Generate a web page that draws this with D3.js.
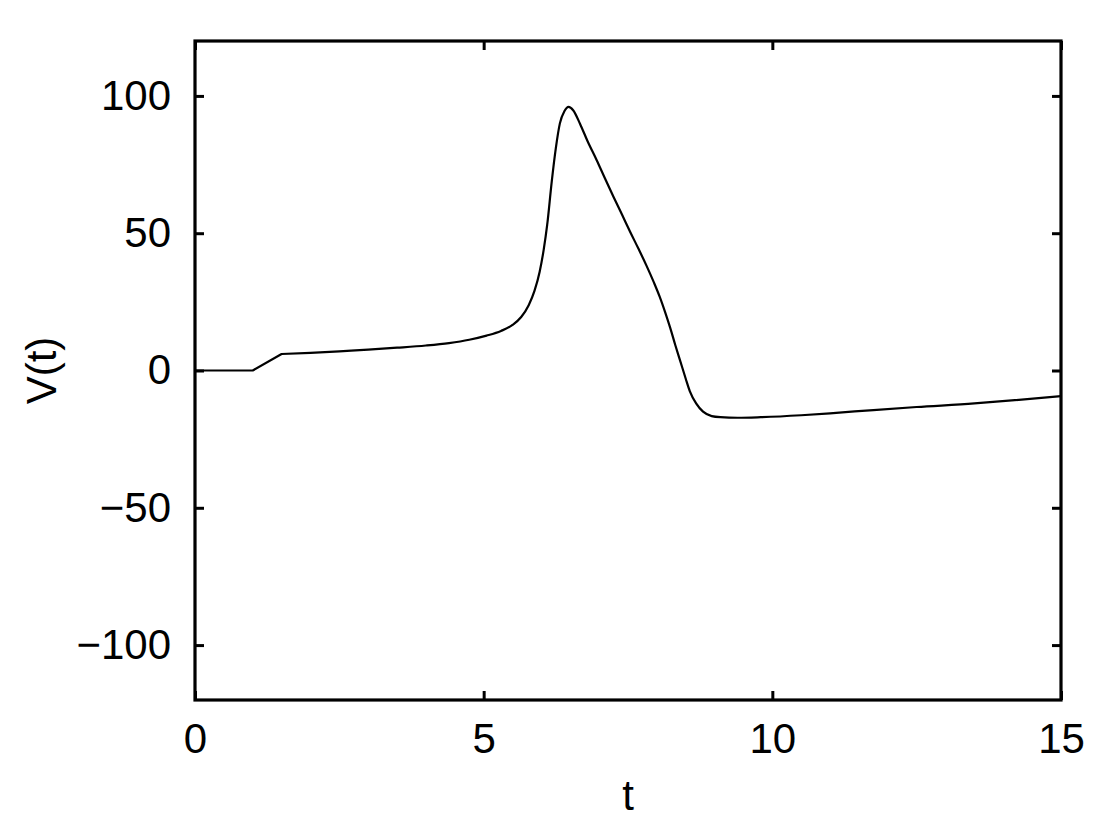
<!DOCTYPE html>
<html>
<head>
<meta charset="utf-8">
<script src="https://cdn.jsdelivr.net/npm/d3@7"></script>
<style>
  html, body { margin: 0; padding: 0; background: #fff; }
  svg { display: block; }
  text { font-family: "Liberation Sans", Arial, Helvetica, sans-serif; fill: #000; }
</style>
</head>
<body>
<script>
// ---- data ----
// stimulus segment (piecewise linear)
const tRamp = [0, 1, 1.5];
const vRamp = [0, 0, 6];
// membrane response (smooth)
const tValues = [1.5, 2, 2.5, 3, 3.5, 4, 4.4, 4.75, 5.05, 5.3, 5.5, 5.65, 5.78, 5.88, 5.97, 6.04, 6.1, 6.18, 6.25, 6.32, 6.4, 6.47, 6.55, 6.67, 6.8, 6.96, 7.1, 7.25, 7.4, 7.53, 7.68, 7.82, 7.95, 8.05, 8.15, 8.23, 8.32, 8.4, 8.5, 8.57, 8.68, 8.8, 8.95, 9.1, 9.4, 9.8, 10.5, 11, 11.75, 12.5, 13.5, 14.2, 15];
const vValues = [6, 6.4, 7, 7.6, 8.3, 9.1, 10, 11.2, 12.7, 14.4, 16.6, 19.5, 23.8, 29, 36, 44, 53, 69, 81, 90, 94.5, 96, 94.8, 89.8, 83.5, 76.5, 70, 63.2, 56.6, 50.8, 44.4, 38.2, 32, 26.8, 20.8, 15.6, 9.2, 3.8, -3, -7.5, -12, -15, -16.6, -17, -17.2, -17, -16.3, -15.6, -14.4, -13.3, -12, -10.8, -9.3];
const xTicks = [0, 5, 10, 15];
const yTicks = [-100, -50, 0, 50, 100];
const xDomain = [0, 15];
const yDomain = [-120, 120];
const xLabel = "t";
const yLabel = "V(t)";

(function () {
  // ---- layout ----
  const W = 1113, H = 835;
  const mLeft = 195, mRight = 1061, mTop = 41, mBottom = 700;

  const svg = d3.select("body").append("svg").attr("width", W).attr("height", H);

  const x = d3.scaleLinear().domain(xDomain).range([mLeft, mRight]);
  const y = d3.scaleLinear().domain(yDomain).range([mBottom, mTop]);

  const fmt = d => (d < 0 ? "\u2212" + Math.abs(d) : String(d));
  const tickLen = 9;

  // curve
  const ramp = tRamp.map((t, i) => ({ t, v: vRamp[i] }));
  const data = tValues.map((t, i) => ({ t, v: vValues[i] }));
  const lineLin = d3.line().x(d => x(d.t)).y(d => y(d.v)).curve(d3.curveLinear);
  const lineSmooth = d3.line().x(d => x(d.t)).y(d => y(d.v)).curve(d3.curveMonotoneX);
  svg.append("path")
    .attr("d", lineLin(ramp) + lineSmooth(data).replace(/^M[^LC]*/, m => "L" + m.slice(1)))
    .attr("fill", "none")
    .attr("stroke", "#000")
    .attr("stroke-width", 2.2)
    .attr("stroke-linejoin", "round");

  // axes: bottom, top, left, right (ticks inside)
  const axB = svg.append("g").attr("transform", `translate(0,${mBottom})`)
    .call(d3.axisBottom(x).tickValues(xTicks).tickSizeInner(-tickLen).tickSizeOuter(0).tickPadding(tickLen + 14).tickFormat(fmt));
  const axT = svg.append("g").attr("transform", `translate(0,${mTop})`)
    .call(d3.axisTop(x).tickValues(xTicks).tickSizeInner(-tickLen).tickSizeOuter(0).tickFormat(""));
  const axL = svg.append("g").attr("transform", `translate(${mLeft},0)`)
    .call(d3.axisLeft(y).tickValues(yTicks).tickSizeInner(-tickLen).tickSizeOuter(0).tickPadding(tickLen + 15).tickFormat(fmt));
  const axR = svg.append("g").attr("transform", `translate(${mRight},0)`)
    .call(d3.axisRight(y).tickValues(yTicks).tickSizeInner(-tickLen).tickSizeOuter(0).tickFormat(""));

  [axB, axT, axL, axR].forEach(g => {
    g.select(".domain").remove();
    g.selectAll(".tick line").attr("stroke", "#000").attr("stroke-width", 3);
    g.selectAll(".tick text").attr("font-size", 42).attr("font-family", "Liberation Sans, Arial, sans-serif").attr("fill", "#000");
  });

  // frame
  svg.append("rect")
    .attr("x", mLeft).attr("y", mTop)
    .attr("width", mRight - mLeft).attr("height", mBottom - mTop)
    .attr("fill", "none").attr("stroke", "#000").attr("stroke-width", 3.2);

  // axis labels
  svg.append("text")
    .attr("x", (mLeft + mRight) / 2).attr("y", 810)
    .attr("text-anchor", "middle")
    .attr("font-size", 42)
    .text(xLabel);

  svg.append("text")
    .attr("transform", `translate(56,${(mTop + mBottom) / 2}) rotate(-90)`)
    .attr("text-anchor", "middle")
    .attr("font-size", 42)
    .text(yLabel);
})();
</script>
</body>
</html>
